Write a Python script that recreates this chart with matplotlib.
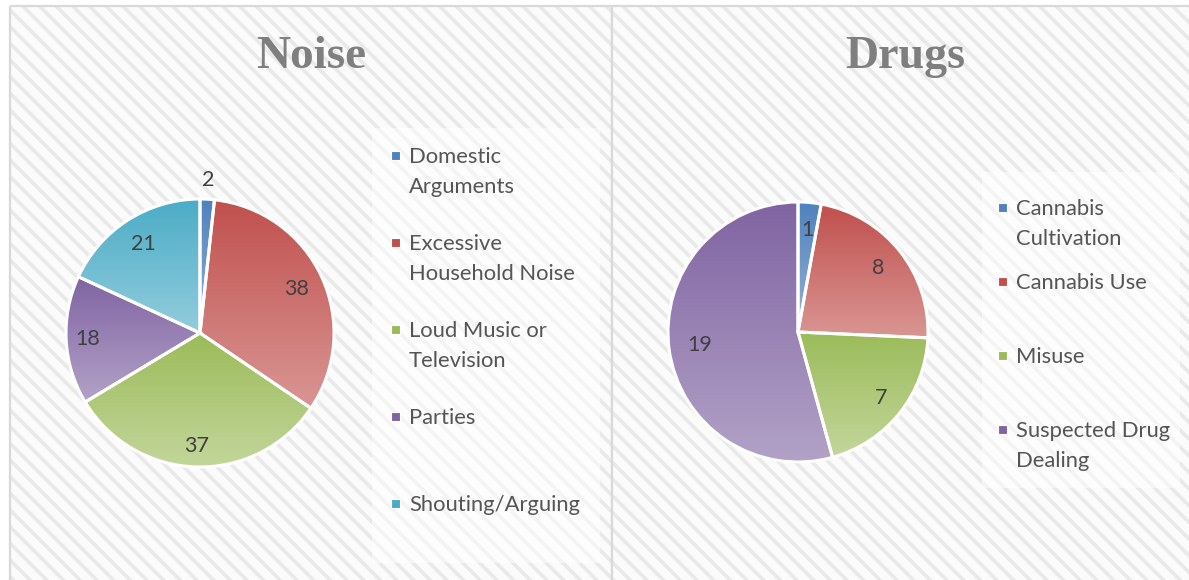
import numpy as np
import matplotlib
matplotlib.use('Agg')
import matplotlib.pyplot as plt
from matplotlib.patches import Rectangle
from matplotlib.colors import to_rgb

# === data ===
noise_labels = ['Domestic\nArguments', 'Excessive\nHousehold Noise',
                'Loud Music or\nTelevision', 'Parties', 'Shouting/Arguing']
noise_values = [2, 38, 37, 18, 21]

drugs_labels = ['Cannabis\nCultivation', 'Cannabis Use', 'Misuse',
                'Suspected Drug\nDealing']
drugs_values = [1, 8, 7, 19]

# office-style palette: top colour and bottom colour of each gradient
dark = ['#4F81BD', '#C0504D', '#9BBB59', '#8064A2', '#4BACC6']
light = ['#95B3D7', '#D99694', '#C3D69B', '#B2A2C7', '#93CDDD']

W, H = 1189, 580
plt.rcParams['hatch.linewidth'] = 2.6
plt.rcParams['font.family'] = ['Lato', 'DejaVu Sans']


def fig_rect(x0, y0, x1, y1):
    # pixel box (top-left origin) -> figure fraction
    return [x0 / W, 1 - y1 / H, (x1 - x0) / W, (y1 - y0) / H]


def gradient_pie(ax, values, dists):
    wedges, _ = ax.pie(values, startangle=90, counterclock=False, radius=1,
                       wedgeprops=dict(facecolor='none', edgecolor='white',
                                       linewidth=2.2, zorder=3))
    t = np.linspace(0, 1, 256)[:, None, None]
    for i, w in enumerate(wedges):
        ext = w.get_path().get_extents()
        c0 = np.array(to_rgb(light[i]))
        c1 = np.array(to_rgb(dark[i]))
        img = c0 * (1 - t) + c1 * t
        im = ax.imshow(img, extent=(ext.x0, ext.x1, ext.y0, ext.y1),
                       origin='lower', aspect='auto', zorder=2,
                       interpolation='bilinear')
        im.set_clip_path(w)
        ang = np.deg2rad((w.theta1 + w.theta2) / 2)
        ax.text(dists[i] * np.cos(ang), dists[i] * np.sin(ang), str(values[i]),
                ha='center', va='center', fontsize=15.5, color='#404040', zorder=4)
    ax.set_xlim(-1, 1)
    ax.set_ylim(-1, 1)
    ax.set_aspect('equal')
    ax.axis('off')


def draw_legend(ax, labels, x_marker, x_text, y0, pitch):
    for i, lab in enumerate(labels):
        yb = y0 + i * pitch
        ax.add_patch(Rectangle((x_marker, yb - 12), 9, 9, facecolor=dark[i],
                               edgecolor='white', linewidth=0.8, zorder=3))
        for k, line in enumerate(lab.split('\n')):
            ax.text(x_text, yb + k * 30, line, fontsize=15.8, color='#555555',
                    ha='left', va='baseline', zorder=3)


fig = plt.figure(figsize=(W / 100, H / 100), dpi=100)

bg = fig.add_axes([0, 0, 1, 1])
bg.set_xlim(0, W)
bg.set_ylim(H, 0)
bg.axis('off')

# hatched panels + borders
for x0, x1 in [(10, 612), (612, W + 10)]:
    bg.add_patch(Rectangle((x0, 6), x1 - x0, H, facecolor='#fbfbfb',
                           edgecolor='#e9e9e9', linewidth=0, hatch='\\\\'))
    bg.add_patch(Rectangle((x0, 6), x1 - x0, H, facecolor='none',
                           edgecolor='#d9d9d9', linewidth=1.6))

# legend boxes
bg.add_patch(Rectangle((372, 128), 228, 435, facecolor='white', alpha=0.5,
                       linewidth=0, zorder=2))
bg.add_patch(Rectangle((982, 172), 198, 316, facecolor='white', alpha=0.5,
                       linewidth=0, zorder=2))

# titles
bg.text(311, 68, 'Noise', fontsize=34, fontweight='bold', color='#7f7f7f',
        family='Liberation Serif', ha='center', va='baseline')
bg.text(905, 68, 'Drugs', fontsize=33, fontweight='bold', color='#7f7f7f',
        family='Liberation Serif', ha='center', va='baseline')

draw_legend(bg, noise_labels, 391, 409, 163, 87)
draw_legend(bg, drugs_labels, 998, 1016, 215, 74)

ax1 = fig.add_axes(fig_rect(66, 199, 334, 467))
gradient_pie(ax1, noise_values, [1.14, 0.79, 0.84, 0.84, 0.79])

ax2 = fig.add_axes(fig_rect(668, 202, 928, 462))
gradient_pie(ax2, drugs_values, [0.79, 0.79, 0.82, 0.76])

fig.savefig('out.png', dpi=100)
